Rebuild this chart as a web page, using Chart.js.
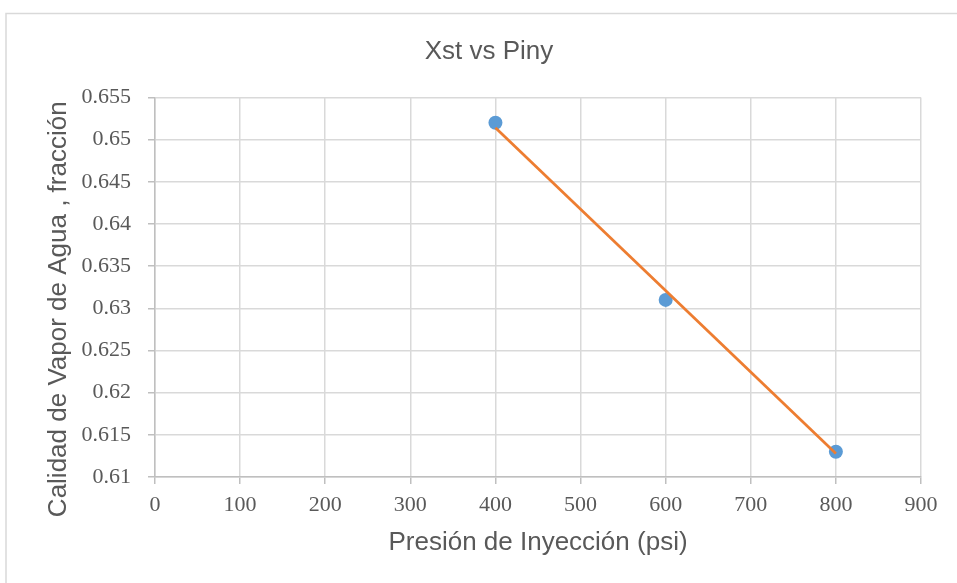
<!DOCTYPE html>
<html>
<head>
<meta charset="utf-8">
<script src="https://cdn.jsdelivr.net/npm/chart.js@4/dist/chart.umd.min.js"></script>
<style>
  html, body { margin: 0; padding: 0; background: #ffffff; }
  #wrap { width: 957px; height: 583px; position: relative; }
</style>
</head>
<body>
<div id="wrap"><canvas id="c" width="957" height="583"></canvas></div>
<script>
const chartTitle = 'Xst vs Piny';
const xAxisTitle = 'Presión de Inyección (psi)';
const yAxisTitle = 'Calidad de Vapor de Agua , fracción';
const pressures = [400, 600, 800];
const steamQuality = [0.652, 0.631, 0.613];
const trendPressures = [400, 800];
const trendQuality = [0.6514, 0.6128];
const xRange = [0, 900, 100];
const yRange = [0.61, 0.655, 0.005];

const textColor = '#595959';
const gridColor = '#d9d9d9';
const axisColor = '#bfbfbf';
const sansFont = 'Liberation Sans';
const serifFont = 'Liberation Serif';

const decorPlugin = {
  id: 'decor',
  beforeDraw(chart) {
    const ctx = chart.ctx;
    ctx.save();
    ctx.fillStyle = '#ffffff';
    ctx.fillRect(0, 0, chart.width, chart.height);
    ctx.strokeStyle = '#d9d9d9';
    ctx.lineWidth = 1.5;
    ctx.strokeRect(6, 13.5, 1200, 1200);
    ctx.restore();
  },
  afterDraw(chart) {
    const ctx = chart.ctx;
    const area = chart.chartArea;
    ctx.save();
    ctx.fillStyle = textColor;
    ctx.textBaseline = 'alphabetic';
    ctx.textAlign = 'center';
    ctx.font = '26px "' + sansFont + '"';
    ctx.fillText(chartTitle, 489, 59);
    ctx.translate(66, (area.top + area.bottom) / 2 + 22);
    ctx.rotate(-Math.PI / 2);
    ctx.font = '26px "' + sansFont + '"';
    ctx.fillText(yAxisTitle, 0, 0);
    ctx.restore();
  }
};

new Chart(document.getElementById('c'), {
  type: 'scatter',
  data: {
    datasets: [
      {
        label: 'Lineal',
        data: trendPressures.map((x, i) => ({ x: x, y: trendQuality[i] })),
        showLine: true,
        borderColor: '#ed7d31',
        borderWidth: 2.75,
        pointRadius: 0,
        pointHoverRadius: 0,
        fill: false,
        order: 0
      },
      {
        label: 'Xst',
        data: pressures.map((x, i) => ({ x: x, y: steamQuality[i] })),
        backgroundColor: '#5b9bd5',
        borderColor: '#5b9bd5',
        pointRadius: 7,
        pointBorderWidth: 0,
        showLine: false,
        order: 1
      }
    ]
  },
  options: {
    responsive: false,
    animation: false,
    devicePixelRatio: 1,
    layout: { padding: { left: 5, right: 36, top: 97.5, bottom: 0 } },
    plugins: {
      legend: { display: false },
      tooltip: { enabled: false },
      title: { display: false }
    },
    scales: {
      x: {
        type: 'linear',
        min: xRange[0],
        max: xRange[1],
        afterFit: s => { s.height = 106; },
        ticks: {
          stepSize: xRange[2],
          color: textColor,
          font: { family: serifFont, size: 22 },
          padding: 8,
          maxRotation: 0
        },
        grid: { color: gridColor, lineWidth: 1.5, tickLength: 7, tickColor: axisColor },
        border: { color: axisColor, width: 1.5 },
        title: {
          display: true,
          text: xAxisTitle,
          color: textColor,
          font: { family: sansFont, size: 26 },
          padding: { top: 0, bottom: 25 }
        }
      },
      y: {
        type: 'linear',
        min: yRange[0],
        max: yRange[1],
        afterFit: s => { s.width = 150; },
        ticks: {
          stepSize: yRange[2],
          color: textColor,
          font: { family: serifFont, size: 22 },
          padding: 17,
          callback: v => String(parseFloat(Number(v).toFixed(3)))
        },
        grid: { color: gridColor, lineWidth: 1.5, tickLength: 7, tickColor: axisColor },
        border: { color: axisColor, width: 1.5 },
        title: { display: false }
      }
    }
  },
  plugins: [decorPlugin]
});
</script>
</body>
</html>
